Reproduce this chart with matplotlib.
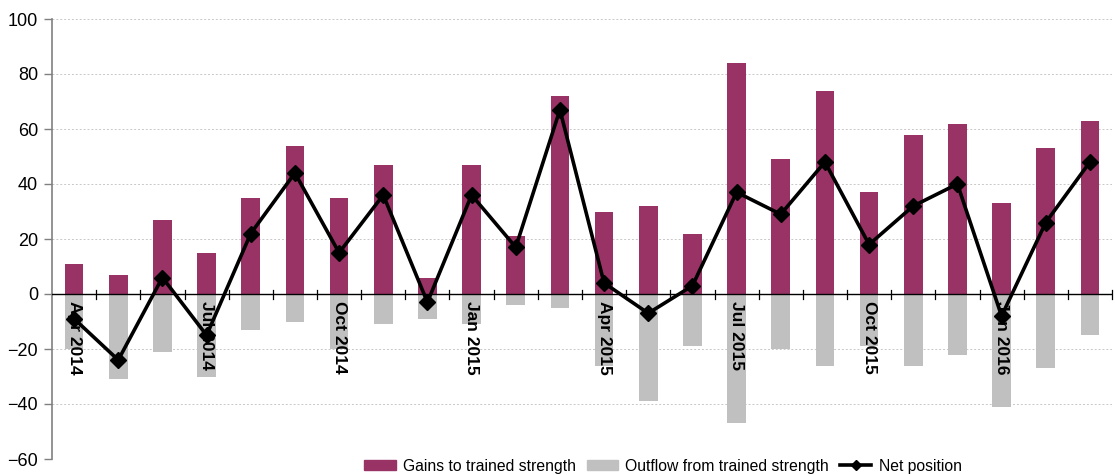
import matplotlib
matplotlib.use("Agg")
import matplotlib.pyplot as plt
from matplotlib.lines import Line2D
from matplotlib.patches import Patch
import numpy as np

plt.rcParams['font.family'] = ['Liberation Sans', 'DejaVu Sans']

months = ["Apr 2014", "May 2014", "Jun 2014", "Jul 2014", "Aug 2014", "Sep 2014",
          "Oct 2014", "Nov 2014", "Dec 2014", "Jan 2015", "Feb 2015", "Mar 2015",
          "Apr 2015", "May 2015", "Jun 2015", "Jul 2015", "Aug 2015", "Sep 2015",
          "Oct 2015", "Nov 2015", "Dec 2015", "Jan 2016", "Feb 2016", "Mar 2016"]
gains = [11, 7, 27, 15, 35, 54, 35, 47, 6, 47, 21, 72,
         30, 32, 22, 84, 49, 74, 37, 58, 62, 33, 53, 63]
outflow = [-20, -31, -21, -30, -13, -10, -20, -11, -9, -11, -4, -5,
           -26, -39, -19, -47, -20, -26, -19, -26, -22, -41, -27, -15]
net = [-9, -24, 6, -15, 22, 44, 15, 36, -3, 36, 17, 67,
       4, -7, 3, 37, 29, 48, 18, 32, 40, -8, 26, 48]
label_every = 3

GAIN_C = "#993366"
OUT_C = "#C0C0C0"

fig = plt.figure(figsize=(11.15, 4.75), dpi=100)
ax = fig.add_axes([52 / 1115, 16 / 475, (1112 - 52) / 1115, 440 / 475])

x = np.arange(len(months))
w = 0.42
ax.bar(x, gains, w, color=GAIN_C, zorder=2)
ax.bar(x, outflow, w, color=OUT_C, zorder=2)
ax.plot(x, net, color="black", lw=2.6, marker="D", ms=8.5, zorder=4)

ax.set_xlim(-0.5, len(months) - 0.5)
ax.set_ylim(-60, 100)
ax.set_yticks(np.arange(-60, 101, 20))
ax.yaxis.grid(True, color="#c8c8c8", ls=(0, (2, 2)), lw=0.7)
ax.set_axisbelow(True)

for s in ["top", "right", "bottom"]:
    ax.spines[s].set_visible(False)
ax.spines["left"].set_color("#808080")
ax.spines["left"].set_linewidth(1.2)
ax.tick_params(axis="y", length=6, width=1, color="#808080", labelsize=13, pad=4)
ax.set_xticks([])

# zero line with category separators
ax.axhline(0, color="black", lw=1.0, zorder=3)
for b in np.arange(0.5, len(months), 1.0):
    ax.plot([b, b], [-1.8, 1.3], color="black", lw=0.9, zorder=3, clip_on=False)

# month labels below the zero line
for i in range(0, len(months), label_every):
    ax.text(x[i], -2.5, months[i], rotation=-90, ha="center", va="top",
            fontsize=12.5, fontweight="bold", family="Liberation Sans", zorder=5)

handles = [Patch(color=GAIN_C, label="Gains to trained strength"),
           Patch(color=OUT_C, label="Outflow from trained strength"),
           Line2D([0], [0], color="black", lw=2.6, marker="D", ms=5, label="Net position")]
leg = fig.legend(handles=handles, loc="center", bbox_to_anchor=(663 / 1115, 1 - 466 / 475),
                 ncol=3, frameon=True, fontsize=11.3, handlelength=2.0, handleheight=0.55,
                 columnspacing=0.7, handletextpad=0.45, borderpad=0.2)
leg.get_frame().set_edgecolor("white")
leg.get_frame().set_facecolor("white")
leg.get_frame().set_alpha(1)

fig.savefig("out.png", dpi=100)
